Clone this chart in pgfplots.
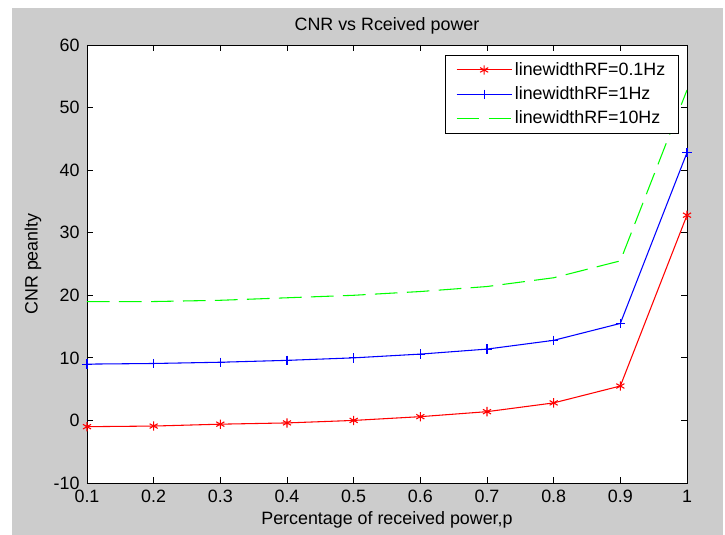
\documentclass[border=0pt]{standalone}
\usepackage{fontspec}
\setmainfont{Liberation Sans}
\usepackage{pgfplots}
\pgfplotsset{compat=1.18}
\definecolor{figgray}{RGB}{204,204,204}
\definecolor{mred}{RGB}{255,0,0}
\definecolor{mblue}{RGB}{0,0,255}
\definecolor{mgreen}{RGB}{0,255,0}

\begin{document}
\fontsize{13.4}{16}\selectfont
\begin{tikzpicture}
% figure area: white margin on the left, top and right, grey panel inside
\fill[white] (0,0) rectangle (543.75pt,401.25pt);
\fill[figgray] (9pt,0) rectangle (542.25pt,395.25pt);
\begin{axis}[
  at={(65.25pt,39pt)}, anchor=south west,
  scale only axis, width=450pt, height=328.5pt,
  xmin=0.1, xmax=1, ymin=-10, ymax=60,
  xtick={0.1,0.2,...,1.0}, ytick={-10,0,...,60},
  xticklabels={0.1,0.2,0.3,0.4,0.5,0.6,0.7,0.8,0.9,1},
  /pgf/number format/assume math mode=true,
  axis background/.style={fill=white},
  axis line style={line width=0.6pt},
  tick align=inside, tick style={line width=0.6pt, black},
  major tick length=4.5pt,
  font=\fontsize{13.4}{16}\selectfont,
  xticklabel style={anchor=base, yshift=-15pt},
  yticklabel style={xshift=-1pt},
  title={CNR vs Rceived power},
  title style={at={(0.5,1)}, anchor=base, yshift=5pt},
  xlabel={Percentage of received power,p},
  xlabel style={at={(0.5,0)}, anchor=base, yshift=-31pt},
  ylabel={CNR peanlty},
  ylabel style={at={(0,0.5)}, anchor=center, yshift=40.5pt},
  legend style={at={(0.9867,0.977)}, anchor=north east, draw=black,
    line width=0.6pt, fill=white, inner xsep=8pt, inner ysep=3pt,
    row sep=2.5pt, font=\fontsize{13.4}{16}\selectfont},
  legend cell align=left,
  legend image code/.code={\draw[mark repeat=2, mark phase=2, #1] plot coordinates {(0pt,0pt) (20.6pt,0pt) (41.2pt,0pt)};},
]
\addplot[mred, line width=0.8pt, mark=asterisk, mark size=3.5pt] coordinates {
(0.1,-1.0) (0.2,-0.9) (0.3,-0.6) (0.4,-0.4) (0.5,0.0) (0.6,0.6) (0.7,1.4) (0.8,2.8) (0.9,5.5) (1.0,32.8)};
\addlegendentry{linewidthRF=0.1Hz}
\addplot[mblue, line width=0.8pt, mark=+, mark size=3.5pt] coordinates {
(0.1,9.0) (0.2,9.1) (0.3,9.3) (0.4,9.6) (0.5,10.0) (0.6,10.6) (0.7,11.4) (0.8,12.8) (0.9,15.5) (1.0,42.8)};
\addlegendentry{linewidthRF=1Hz}
\addplot[mgreen, line width=0.8pt, dash pattern=on 17pt off 7pt, mark=none] coordinates {
(0.1,19.0) (0.2,19.0) (0.3,19.2) (0.4,19.6) (0.5,20.0) (0.6,20.6) (0.7,21.4) (0.8,22.8) (0.9,25.5) (1.0,52.8)};
\addlegendentry{linewidthRF=10Hz}
\end{axis}
\end{tikzpicture}
\end{document}
